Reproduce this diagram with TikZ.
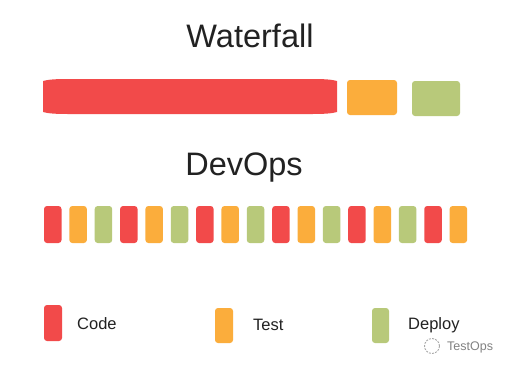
\documentclass[tikz,border=0pt]{standalone}
\usepackage{fontspec}
\setmainfont{Liberation Sans}
\definecolor{cred}{RGB}{242,74,74}
\definecolor{corange}{RGB}{251,173,60}
\definecolor{cgreen}{RGB}{184,201,122}
\definecolor{ctext}{RGB}{34,34,34}
\definecolor{cmark}{RGB}{130,130,130}
\begin{document}
\begin{tikzpicture}[x=1pt,y=-1pt,
  blk/.style={rounded corners=3pt,inner sep=0pt,outer sep=0pt},
  title/.style={text=ctext,font=\fontsize{32.5}{36}\selectfont,inner sep=0pt},
  legtext/.style={text=ctext,font=\fontsize{16.5}{19}\selectfont,anchor=west,inner sep=0pt}]
\useasboundingbox[fill=white] (0,0) rectangle (513,370);
% titles
\node[title] (wf) at (250,36) {Waterfall};
\node[title] (dev) at (244,168) {DevOps};
% waterfall bars
\fill[cred] (43,81) .. controls (48,79.5) and (56,79) .. (68,79) -- (312,79)
  .. controls (324,79) and (332,79.5) .. (337,81) -- (337,112)
  .. controls (332,113.5) and (324,114) .. (312,114) -- (68,114)
  .. controls (56,114) and (48,113.5) .. (43,112) -- cycle;
\coordinate (wcode) at (190,96);
\fill[corange,blk] (347,80) rectangle (397,115);
\fill[cgreen,blk] (412,81) rectangle (460,116);
% devops blocks
\foreach \i/\c in {0/cred,1/corange,2/cgreen,3/cred,4/corange,5/cgreen,6/cred,7/corange,8/cgreen,9/cred,10/corange,11/cgreen,12/cred,13/corange,14/cgreen,15/cred,16/corange}{
  \pgfmathsetmacro{\xx}{44+25.35*\i}
  \fill[\c,blk] (\xx,206) rectangle ++(17.5,37);
}
% legend
\fill[cred,blk] (44,305) rectangle (62,341);
\node[legtext] (lcode) at (77,324) {Code};
\fill[corange,blk] (215,308) rectangle (233,343);
\node[legtext] (ltest) at (253,325) {Test};
\fill[cgreen,blk] (372,308) rectangle (389,343);
\node[legtext] (ldeploy) at (408,325) {Deploy};
% watermark
\draw[cmark!70,line width=0.9pt,dash pattern=on 2pt off 1.2pt] (432,346) circle (7.5pt);
\node[text=cmark,font=\fontsize{12.5}{14}\selectfont,anchor=west,inner sep=0pt] (wm) at (447,347) {TestOps};
\end{tikzpicture}
\end{document}
